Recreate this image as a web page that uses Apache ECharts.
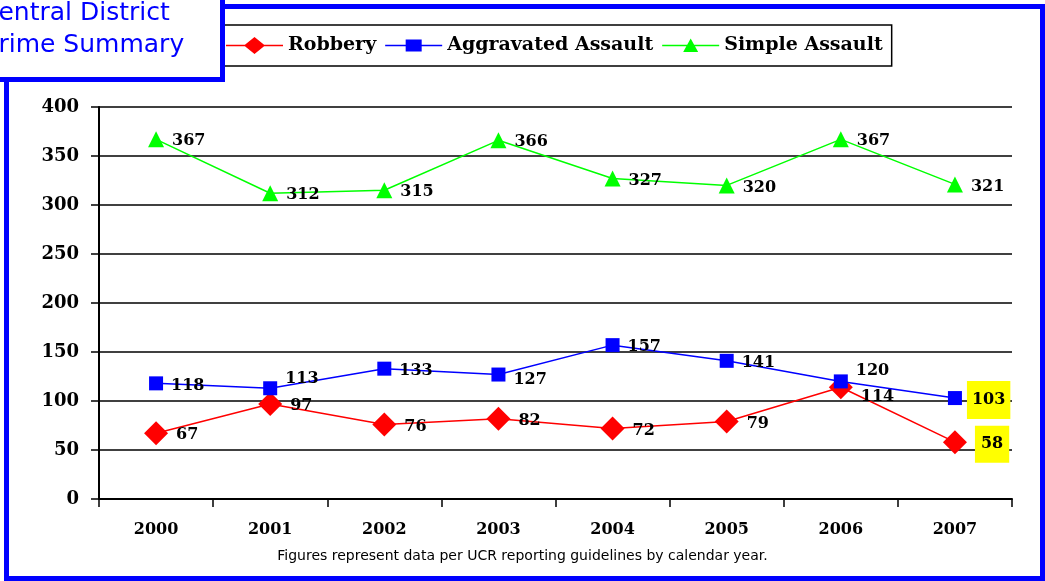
<!DOCTYPE html>
<html>
<head>
<meta charset="utf-8">
<script src="https://cdn.jsdelivr.net/npm/echarts@6/dist/echarts.min.js"></script>
<style>
html,body{margin:0;padding:0;background:#fff;}
#c{width:1045px;height:581px;}
</style>
</head>
<body>
<div id="c"></div>
<script>
const years = ['2000','2001','2002','2003','2004','2005','2006','2007'];
const robbery = [67, 97, 76, 82, 72, 79, 114, 58];
const aggravated = [118, 113, 133, 127, 157, 141, 120, 103];
const simple = [367, 312, 315, 366, 327, 320, 367, 321];
const yTicks = {min: 0, max: 400, interval: 50};
const titleLines = ['Central District', 'Crime Summary'];
const footnote = 'Figures represent data per UCR reporting guidelines by calendar year.';

const SERIF = '"DejaVu Serif", serif';
const SANS = '"DejaVu Sans", sans-serif';

const baseLabel = {
  show: true, position: 'right', distance: 8, offset: [0, 2],
  color: '#000', fontFamily: SERIF, fontWeight: 'bold', fontSize: 16
};
const hiLabel = {backgroundColor: '#ffff00', padding: [12, 5, 10, 5]};

function pts(values, special) {
  return values.map((v, i) => {
    const o = {value: v};
    if (special[i]) o.label = special[i];
    return o;
  });
}

// legend icons: line + marker inside a 57x18 box (corner points fix the bounding box)
const frameBox = 'M0,0L0,0M57,18L57,18';
const iconLine = 'M0,8.25L57,8.25L57,9.75L0,9.75Z';
const icons = {
  robbery: 'path://' + frameBox + iconLine + 'M18,9L28.5,0.5L39,9L28.5,17.5Z',
  aggravated: 'path://' + frameBox + iconLine + 'M20.5,3L36.5,3L36.5,15L20.5,15Z',
  simple: 'path://' + frameBox + iconLine + 'M28.5,2L36,15.5L21,15.5Z'
};

const chart = echarts.init(document.getElementById('c'), null, {renderer: 'canvas'});
chart.setOption({
  animation: false,
  backgroundColor: '#fff',
  grid: {left: 99, right: 33, top: 107, bottom: 82, containLabel: false},
  legend: {
    left: 218, top: 25,
    padding: [11, 9, 11, 8],
    borderColor: '#000', borderWidth: 1.5, backgroundColor: '#fff',
    itemWidth: 57, itemHeight: 18, itemGap: 9,
    symbolKeepAspect: false,
    itemStyle: {borderWidth: 0},
    textStyle: {fontFamily: SERIF, fontWeight: 'bold', fontSize: 19, color: '#000'},
    data: [
      {name: 'Robbery', icon: icons.robbery},
      {name: 'Aggravated Assault', icon: icons.aggravated},
      {name: 'Simple Assault', icon: icons.simple}
    ]
  },
  xAxis: {
    type: 'category', data: years, boundaryGap: true,
    axisLine: {show: true, lineStyle: {color: '#000', width: 2}},
    axisTick: {show: true, length: 8, lineStyle: {color: '#000', width: 1.5}},
    axisLabel: {margin: 23, color: '#000', fontFamily: SERIF, fontWeight: 'bold', fontSize: 16},
    splitLine: {show: false}
  },
  yAxis: {
    type: 'value', min: yTicks.min, max: yTicks.max, interval: yTicks.interval,
    axisLine: {show: true, lineStyle: {color: '#000', width: 2}},
    axisTick: {show: true, length: 8, lineStyle: {color: '#000', width: 1.5}},
    axisLabel: {margin: 20, color: '#000', fontFamily: SERIF, fontWeight: 'bold', fontSize: 18},
    splitLine: {show: true, lineStyle: {color: '#000', width: 1.5}}
  },
  series: [
    {
      name: 'Robbery', type: 'line', data: pts(robbery, {6: {offset: [0, 10]}, 7: Object.assign({}, hiLabel, {padding: [11, 6, 10, 6]})}),
      symbol: 'diamond', symbolSize: 24,
      lineStyle: {color: '#ff0000', width: 1.5},
      itemStyle: {color: '#ff0000'},
      label: baseLabel, z: 3
    },
    {
      name: 'Aggravated Assault', type: 'line', data: pts(aggravated, {1: {offset: [0, -9]}, 3: {offset: [0, 5]}, 6: {offset: [0, -11]}, 7: Object.assign({}, hiLabel, {distance: 5})}),
      symbol: 'rect', symbolSize: 14,
      lineStyle: {color: '#0000ff', width: 1.5},
      itemStyle: {color: '#0000ff'},
      label: baseLabel, z: 4
    },
    {
      name: 'Simple Assault', type: 'line', data: simple,
      symbol: 'triangle', symbolSize: 16,
      lineStyle: {color: '#00ff00', width: 1.5},
      itemStyle: {color: '#00ff00'},
      label: baseLabel, z: 5
    }
  ],
  graphic: [
    {type: 'rect', z: -1, silent: true, shape: {x: 6.5, y: 6.5, width: 1036, height: 572},
     style: {fill: 'none', stroke: '#0000ff', lineWidth: 5}},
    {type: 'text', left: 'center', top: 549, silent: true,
     style: {text: footnote, font: '14px ' + SANS, fill: '#000'}},
    {type: 'group', z: 100, children: [
      {type: 'rect', z: 100, shape: {x: -10, y: -10, width: 232.5, height: 89.5},
       style: {fill: '#fff', stroke: '#0000ff', lineWidth: 5}},
      {type: 'text', z: 101, x: -19, y: 1,
       style: {text: titleLines[0], font: '25px ' + SANS, fill: '#0000ff', textVerticalAlign: 'top'}},
      {type: 'text', z: 101, x: -19, y: 33,
       style: {text: titleLines[1], font: '25px ' + SANS, fill: '#0000ff', textVerticalAlign: 'top'}}
    ]}
  ]
});
</script>
</body>
</html>
